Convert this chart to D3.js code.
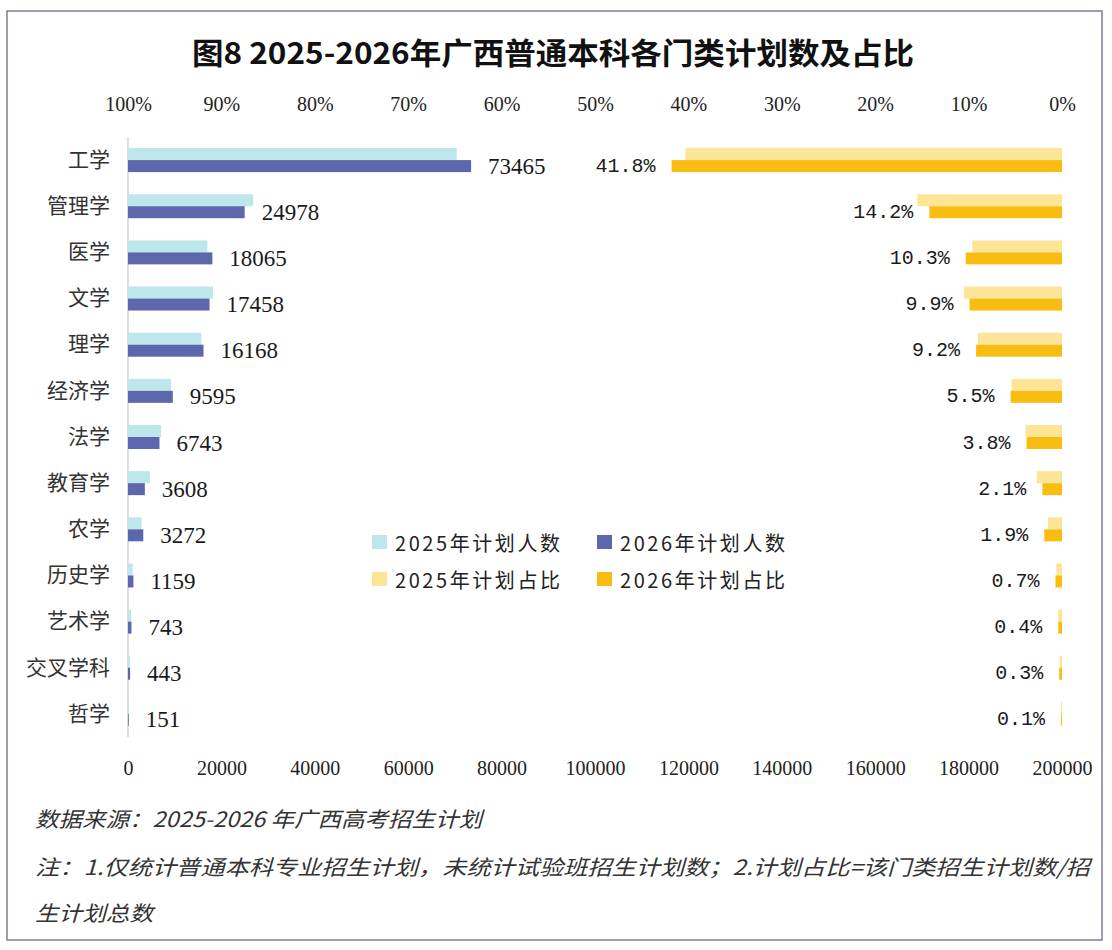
<!DOCTYPE html>
<html>
<head>
<meta charset="utf-8">
<script src="https://cdn.jsdelivr.net/npm/d3@7"></script>
<style>
    body { margin: 0; background: #ffffff; }
    svg { display: block; }
    .domain { display: none; }
</style>
</head>
<body>
<script>
// categories and values
var categories = ["工学", "管理学", "医学", "文学", "理学", "经济学", "法学", "教育学", "农学", "历史学", "艺术学", "交叉学科", "哲学"];
var count2025 = [70400, 26800, 17000, 18200, 15700, 9200, 7100, 4700, 2900, 1000, 650, 400, 150];
var count2026 = [73465, 24978, 18065, 17458, 16168, 9595, 6743, 3608, 3272, 1159, 743, 443, 151];
var share2025 = [40.3, 15.5, 9.6, 10.5, 9.0, 5.4, 3.9, 2.7, 1.5, 0.6, 0.4, 0.25, 0.1];
var share2026 = [41.8, 14.2, 10.3, 9.9, 9.2, 5.5, 3.8, 2.1, 1.9, 0.7, 0.4, 0.3, 0.1];
var countTicks = [0, 20000, 40000, 60000, 80000, 100000, 120000, 140000, 160000, 180000, 200000];
var shareTicks = [100, 90, 80, 70, 60, 50, 40, 30, 20, 10, 0];
var legendNames = ["2025年计划人数", "2026年计划人数", "2025年计划占比", "2026年计划占比"];

var colors = { c25: "#bde7eb", c26: "#5c67ad", s25: "#fde598", s26: "#f9bd12" };

var width = 1112, height = 950;
var svg = d3.select("body").append("svg")
    .attr("width", width)
    .attr("height", height);

// frame
svg.append("rect")
    .attr("x", 7).attr("y", 11)
    .attr("width", 1095).attr("height", 929)
    .attr("fill", "#ffffff")
    .attr("stroke", "#7b7e9c")
    .attr("stroke-width", 1.5);

svg.append("text")
    .attr("x", 553)
    .attr("y", 51)
    .attr("text-anchor", "middle")
    .attr("dominant-baseline", "central")
    .attr("textLength", 722)
    .attr("lengthAdjust", "spacingAndGlyphs")
    .style("font-family", "'Noto Sans CJK SC', sans-serif")
    .style("font-weight", "bold")
    .style("font-size", "30px")
    .attr("fill", "#111")
    .text("图8 2025-2026年广西普通本科各门类计划数及占比");

var plotLeft = 128, plotRight = 1062, plotTop = 137, plotBottom = 737;

var x = d3.scaleLinear().domain([0, 200000]).range([plotLeft, plotRight]);
var xp = d3.scaleLinear().domain([0, 100]).range([plotRight, plotLeft]);
var y = d3.scaleBand().domain(categories).range([plotTop, plotBottom]).paddingInner(0.48).paddingOuter(0.24);
var sub = d3.scaleBand().domain(["a", "b"]).range([0, y.bandwidth()]);

var rows = categories.map(function (c, i) {
    return { name: c, c25: count2025[i], c26: count2026[i], s25: share2025[i], s26: share2026[i] };
});

// top percent axis
var topAxis = svg.append("g")
    .attr("transform", "translate(0,104)")
    .call(d3.axisTop(xp).tickValues(shareTicks).tickSize(0).tickFormat(function (d) { return d + "%"; }));
topAxis.selectAll("text")
    .attr("y", 0)
    .attr("dy", "0.35em")
    .style("font-family", "'Liberation Serif', serif")
    .style("font-size", "20px")
    .attr("fill", "#222");

// bottom count axis
var botAxis = svg.append("g")
    .attr("transform", "translate(0,768)")
    .call(d3.axisBottom(x).tickValues(countTicks).tickSize(0).tickFormat(d3.format("d")));
botAxis.selectAll("text")
    .attr("y", 0)
    .attr("dy", "0.35em")
    .style("font-family", "'Liberation Serif', serif")
    .style("font-size", "20px")
    .attr("fill", "#222");

// category axis
var catAxis = svg.append("g")
    .attr("transform", "translate(" + plotLeft + ",0)")
    .call(d3.axisLeft(y).tickSize(0).tickPadding(18));
catAxis.selectAll("text")
    .style("font-family", "'Noto Sans CJK SC', sans-serif")
    .style("font-size", "21px")
    .attr("fill", "#333");

svg.append("line")
    .attr("x1", plotLeft).attr("x2", plotLeft)
    .attr("y1", plotTop).attr("y2", plotBottom)
    .attr("stroke", "#c9cad3")
    .attr("stroke-width", 1.2);

var g = svg.append("g");

// count bars
g.selectAll(".bar25")
    .data(rows)
    .enter().append("rect")
    .attr("class", "bar25")
    .attr("x", x(0))
    .attr("y", function (d) { return y(d.name) + sub("a"); })
    .attr("width", function (d) { return x(d.c25) - x(0); })
    .attr("height", sub.bandwidth())
    .attr("fill", colors.c25);

g.selectAll(".bar26")
    .data(rows)
    .enter().append("rect")
    .attr("class", "bar26")
    .attr("x", x(0))
    .attr("y", function (d) { return y(d.name) + sub("b"); })
    .attr("width", function (d) { return x(d.c26) - x(0); })
    .attr("height", sub.bandwidth())
    .attr("fill", colors.c26);

// share bars, growing leftwards from 0%
g.selectAll(".sh25")
    .data(rows)
    .enter().append("rect")
    .attr("class", "sh25")
    .attr("x", function (d) { return xp(d.s25); })
    .attr("y", function (d) { return y(d.name) + sub("a"); })
    .attr("width", function (d) { return xp(0) - xp(d.s25); })
    .attr("height", sub.bandwidth())
    .attr("fill", colors.s25);

g.selectAll(".sh26")
    .data(rows)
    .enter().append("rect")
    .attr("class", "sh26")
    .attr("x", function (d) { return xp(d.s26); })
    .attr("y", function (d) { return y(d.name) + sub("b"); })
    .attr("width", function (d) { return xp(0) - xp(d.s26); })
    .attr("height", sub.bandwidth())
    .attr("fill", colors.s26);

// value labels
g.selectAll(".lblCount")
    .data(rows)
    .enter().append("text")
    .attr("class", "lblCount")
    .attr("x", function (d) { return x(d.c26) + 17; })
    .attr("y", function (d) { return y(d.name) + sub("b") + sub.bandwidth() / 2; })
    .attr("dominant-baseline", "central")
    .style("font-family", "'Liberation Serif', serif")
    .style("font-size", "23px")
    .attr("fill", "#1a1a1a")
    .text(function (d) { return d.c26; });

g.selectAll(".lblShare")
    .data(rows)
    .enter().append("text")
    .attr("class", "lblShare")
    .attr("x", function (d) { return xp(d.s26) - 16; })
    .attr("y", function (d) { return y(d.name) + sub("b") + sub.bandwidth() / 2; })
    .attr("text-anchor", "end")
    .attr("dominant-baseline", "central")
    .style("font-family", "'Liberation Mono', monospace")
    .style("font-size", "20px")
    .attr("fill", "#1a1a1a")
    .text(function (d) { return d.s26.toFixed(1) + "%"; });

// legend
var legendColors = [colors.c25, colors.c26, colors.s25, colors.s26];
var legend = svg.selectAll(".legend")
    .data(legendNames)
    .enter().append("g")
    .attr("class", "legend")
    .attr("transform", function (d, i) {
        return "translate(" + (372 + (i % 2) * 225) + "," + (542 + Math.floor(i / 2) * 37) + ")";
    });
legend.append("rect")
    .attr("x", 0).attr("y", -7)
    .attr("width", 15).attr("height", 14)
    .attr("fill", function (d, i) { return legendColors[i]; });
legend.append("text")
    .attr("x", 23)
    .attr("y", 0)
    .attr("dominant-baseline", "central")
    .attr("textLength", 165)
    .attr("lengthAdjust", "spacing")
    .style("font-family", "'Noto Sans CJK SC', sans-serif")
    .style("font-size", "20px")
    .attr("fill", "#222")
    .text(function (d) { return d; });

// notes
var notes = [
    { t: "数据来源：2025-2026 年广西高考招生计划", y: 818, w: 447 },
    { t: "注：1.仅统计普通本科专业招生计划，未统计试验班招生计划数；2.计划占比=该门类招生计划数/招", y: 866, w: 1055 },
    { t: "生计划总数", y: 912, w: 118 }
];
svg.selectAll(".note")
    .data(notes)
    .enter().append("text")
    .attr("class", "note")
    .attr("x", 35)
    .attr("y", function (d) { return d.y; })
    .attr("dominant-baseline", "central")
    .attr("textLength", function (d) { return d.w; })
    .attr("lengthAdjust", "spacingAndGlyphs")
    .style("font-family", "'Noto Sans CJK SC', sans-serif")
    .style("font-style", "italic")
    .style("font-size", "21px")
    .attr("fill", "#333")
    .text(function (d) { return d.t; });
</script>
</body>
</html>
